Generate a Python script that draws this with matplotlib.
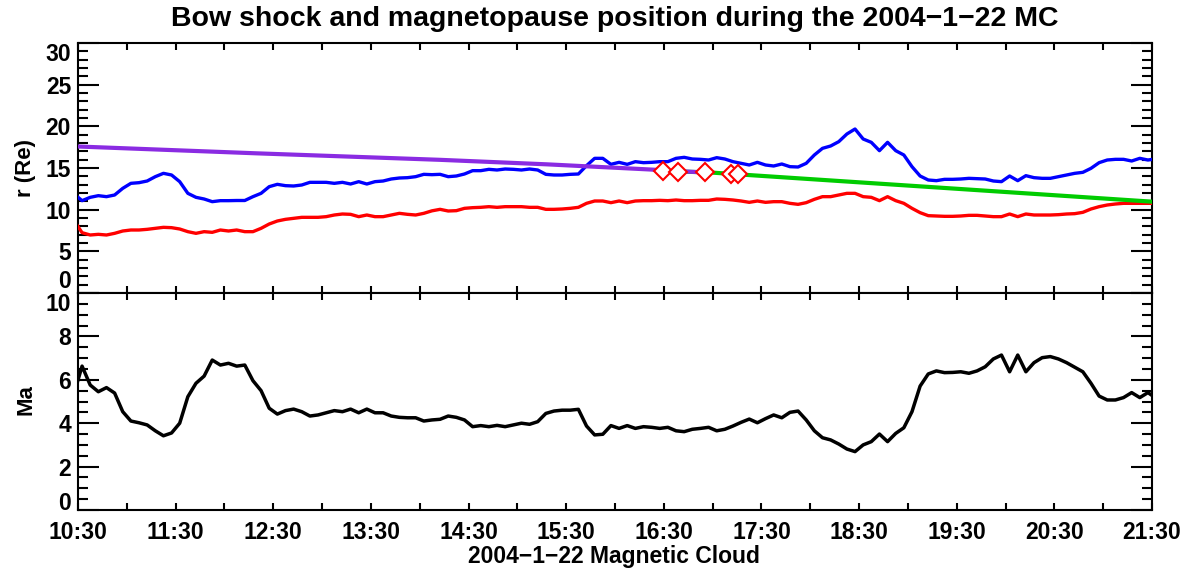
import numpy as np
import matplotlib
matplotlib.use("Agg")
import matplotlib.pyplot as plt

plt.rcParams["font.family"] = ["Liberation Sans", "DejaVu Sans"]
plt.rcParams["font.weight"] = "bold"

# --- data (5-min samples, times in decimal hours, first/last sample fall just outside the axis) ---
t_min = np.arange(-2.5, 665, 5.0)
times = 10.5 + t_min / 60.0

bow_shock = [11.9,
    11.08, 11.48, 11.68, 11.56, 11.76, 12.56, 13.16, 13.24, 13.44, 13.96,
    14.36, 14.16, 13.36, 11.96, 11.48, 11.28, 10.96, 11.08, 11.08, 11.10,
    11.10, 11.56, 11.96, 12.76, 13.04, 12.88, 12.84, 12.96, 13.28, 13.28,
    13.28, 13.16, 13.28, 13.08, 13.36, 13.08, 13.36, 13.44, 13.68, 13.80,
    13.84, 13.96, 14.24, 14.20, 14.24, 13.96, 14.04, 14.28, 14.68, 14.68,
    14.84, 14.76, 14.88, 14.84, 14.76, 14.88, 14.76, 14.24, 14.16, 14.16,
    14.24, 14.28, 15.28, 16.16, 16.16, 15.44, 15.68, 15.44, 15.76, 15.64,
    15.68, 15.76, 15.76, 16.16, 16.28, 16.08, 16.04, 15.96, 16.24, 16.08,
    15.76, 15.56, 15.36, 15.68, 15.36, 15.24, 15.48, 15.16, 15.12, 15.56,
    16.56, 17.36, 17.64, 18.16, 19.08, 19.68, 18.48, 18.08, 17.08, 18.08,
    17.08, 16.56, 15.16, 14.04, 13.56, 13.48, 13.64, 13.64, 13.68, 13.76,
    13.72, 13.68, 13.44, 13.36, 14.04, 13.48, 14.08, 13.84, 13.76, 13.76,
    13.96, 14.16, 14.36, 14.48, 14.96, 15.64, 15.96, 16.04, 16.04, 15.84,
    16.16, 15.96, 16.10]

magnetopause = [8.7,
    7.24, 6.96, 7.04, 6.96, 7.16, 7.44, 7.56, 7.56, 7.64, 7.76,
    7.88, 7.84, 7.68, 7.36, 7.16, 7.36, 7.28, 7.56, 7.44, 7.56,
    7.36, 7.36, 7.76, 8.28, 8.64, 8.84, 8.96, 9.08, 9.08, 9.08,
    9.16, 9.36, 9.48, 9.44, 9.16, 9.36, 9.16, 9.16, 9.36, 9.56,
    9.44, 9.36, 9.56, 9.86, 10.04, 9.84, 9.88, 10.16, 10.24, 10.28,
    10.36, 10.28, 10.36, 10.36, 10.36, 10.28, 10.28, 10.04, 10.04, 10.08,
    10.16, 10.28, 10.76, 11.04, 11.04, 10.84, 11.04, 10.84, 11.04, 11.08,
    11.08, 11.12, 11.08, 11.16, 11.08, 11.08, 11.12, 11.12, 11.28, 11.24,
    11.16, 11.04, 10.88, 11.04, 10.88, 10.96, 10.96, 10.76, 10.64, 10.84,
    11.24, 11.56, 11.56, 11.76, 11.96, 11.96, 11.56, 11.48, 11.08, 11.56,
    11.08, 10.76, 10.16, 9.64, 9.28, 9.24, 9.20, 9.20, 9.24, 9.32,
    9.32, 9.24, 9.16, 9.16, 9.48, 9.16, 9.48, 9.36, 9.36, 9.36,
    9.40, 9.48, 9.52, 9.68, 10.08, 10.36, 10.56, 10.68, 10.76, 10.76,
    10.76, 10.76, 10.76]

mach = [5.35,
    6.63, 5.76, 5.45, 5.64, 5.39, 4.53, 4.10, 4.02, 3.92, 3.65,
    3.42, 3.55, 4.00, 5.22, 5.84, 6.17, 6.91, 6.68, 6.76, 6.63,
    6.68, 5.96, 5.50, 4.69, 4.42, 4.58, 4.65, 4.53, 4.33, 4.38,
    4.48, 4.58, 4.53, 4.65, 4.48, 4.65, 4.48, 4.48, 4.33, 4.27,
    4.25, 4.25, 4.10, 4.15, 4.18, 4.33, 4.27, 4.15, 3.84, 3.89,
    3.84, 3.90, 3.84, 3.92, 4.00, 3.95, 4.07, 4.45, 4.56, 4.60,
    4.60, 4.64, 3.87, 3.46, 3.49, 3.89, 3.76, 3.89, 3.76, 3.84,
    3.81, 3.76, 3.81, 3.65, 3.61, 3.72, 3.76, 3.81, 3.65, 3.72,
    3.87, 4.04, 4.19, 4.02, 4.21, 4.38, 4.25, 4.50, 4.56, 4.15,
    3.65, 3.33, 3.23, 3.04, 2.81, 2.69, 3.00, 3.15, 3.50, 3.15,
    3.53, 3.79, 4.53, 5.71, 6.27, 6.41, 6.33, 6.34, 6.37, 6.30,
    6.41, 6.60, 6.96, 7.14, 6.37, 7.14, 6.37, 6.79, 7.02, 7.07,
    6.96, 6.79, 6.58, 6.37, 5.84, 5.25, 5.07, 5.07, 5.18, 5.41,
    5.18, 5.41, 5.15]

# spacecraft / model reference lines
purple_t = [10.5, 12.331, 14.209, 15.302, 16.327, 16.49, np.nan, 16.65, 16.86]
purple_r = [17.58, 16.76, 15.98, 15.44, 14.84, 14.74, np.nan, 14.62, 14.50]
green_t = [16.49, 16.95, 21.5]
green_r = [14.62, 14.48, 10.96]

# crossings
cross_t = [16.487, 16.65, 16.917, 17.19, 17.255]
cross_r = [14.68, 14.56, 14.48, 14.28, 14.28]

xtick_major = np.arange(10.5, 21.6, 1.0)
xtick_minor = np.arange(11.0, 21.1, 1.0)
xtick_labels = ["%d:30" % int(h) for h in xtick_major]

fig = plt.figure(figsize=(11.92, 5.68), dpi=100)
W, H = 1192.0, 568.0
x0, x1 = 78, 1152
ax1 = fig.add_axes([x0 / W, 1 - 293 / H, (x1 - x0) / W, 250 / H])
ax2 = fig.add_axes([x0 / W, 1 - 510 / H, (x1 - x0) / W, 217 / H])

ax1.plot(times, bow_shock, color="#0000ff", lw=2.4, zorder=3)
ax1.plot(times, magnetopause, color="#ff0000", lw=2.4, zorder=3)
ax1.plot(green_t, green_r, color="#00cc00", lw=3.0, zorder=4)
ax1.plot(purple_t, purple_r, color="#8a2be2", lw=3.0, zorder=4)
ax1.plot(cross_t, cross_r, ls="none", marker="D", ms=9, mfc="white",
         mec="#ff0000", mew=1.5, zorder=5)

ax2.plot(times, mach, color="black", lw=2.5)

for ax, (lo, hi), maj, mnr, bot_va in [(ax1, (0, 30), 5, 1, "bottom"),
                                       (ax2, (0, 10), 2, 0.5, "baseline")]:
    ax.set_xlim(10.5, 21.5)
    ax.set_ylim(lo, hi)
    ax.set_xticks(xtick_major)
    ax.set_xticks(xtick_minor, minor=True)
    ax.set_yticks(np.arange(lo, hi + 0.01, maj))
    ax.set_yticks(np.arange(lo, hi + 0.01, mnr), minor=True)
    ax.tick_params(which="both", direction="in", top=True, right=True, width=1.5)
    ax.tick_params(axis="y", which="major", length=15, pad=5, labelsize=16.5)
    ax.tick_params(axis="y", which="minor", length=7)
    ax.tick_params(axis="x", which="both", length=5, pad=8, labelsize=16.5)
    for s in ax.spines.values():
        s.set_linewidth(1.5)
    yt = ax.yaxis.get_major_ticks()
    yt[0].label1.set_verticalalignment(bot_va)
    yt[-1].label1.set_verticalalignment("top")

ax1.set_xticklabels([])
ax2.set_xticklabels(xtick_labels)

fig.text(26 / W, 1 - 168 / H, "r (Re)", rotation=90, ha="center", va="center",
         fontsize=16, fontweight="bold")
fig.text(26 / W, 1 - 400 / H, "Ma", rotation=90, ha="center", va="center",
         fontsize=16, fontweight="bold")
fig.text(614 / W, 1 - 557 / H, "2004\u22121\u221222 Magnetic Cloud", ha="center",
         va="center", fontsize=16.5, fontweight="bold")
fig.text(615 / W, 1 - 19 / H,
         "Bow shock and magnetopause position during the 2004\u22121\u221222 MC",
         ha="center", va="center", fontsize=20.5, fontweight="bold")

fig.savefig("out.png", dpi=100, facecolor="white")
